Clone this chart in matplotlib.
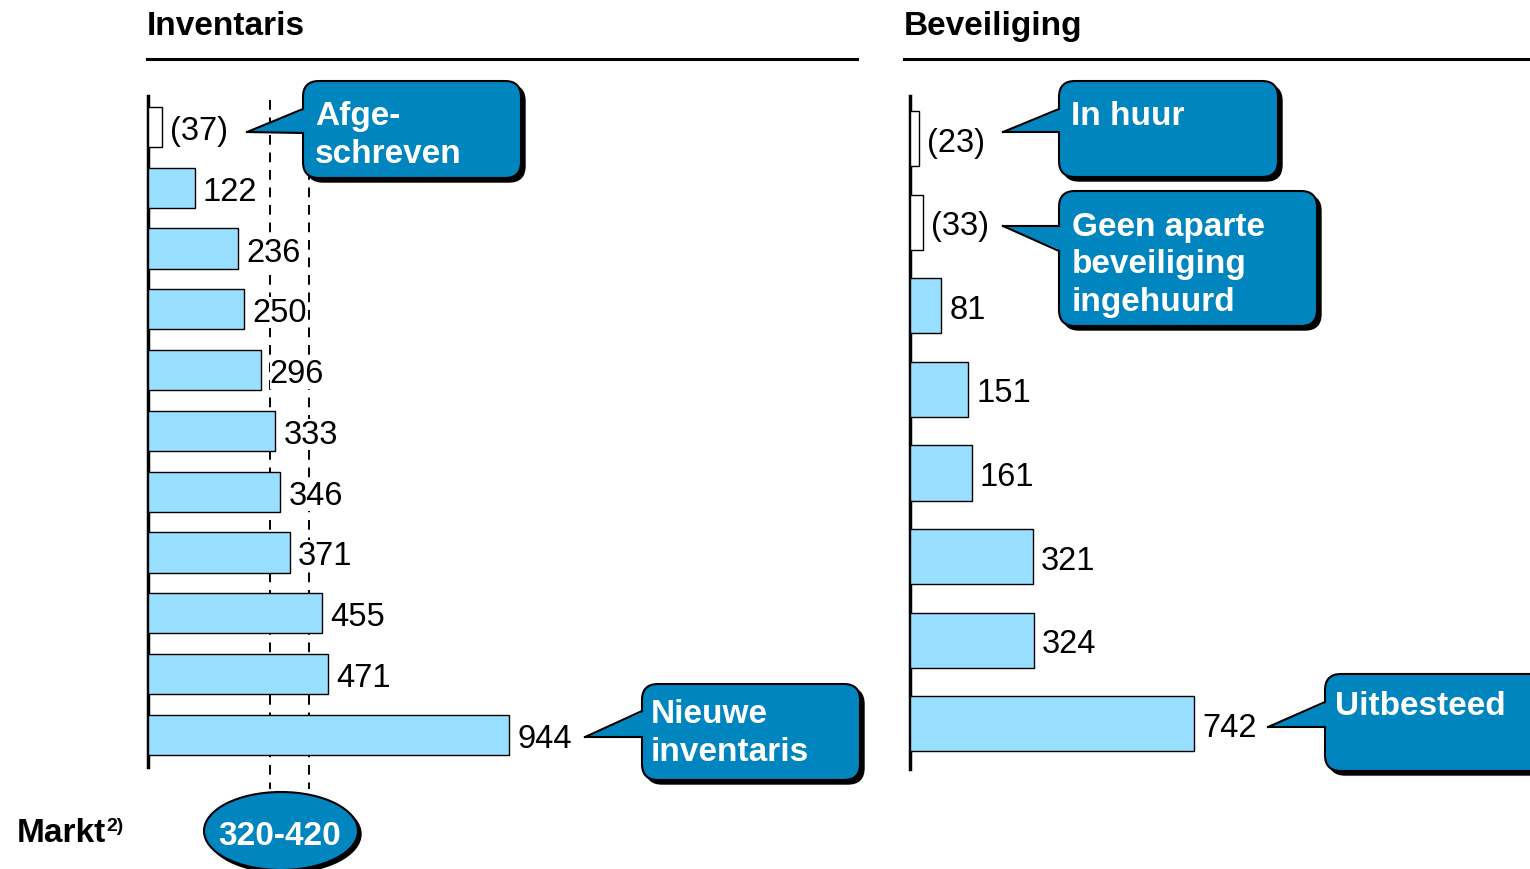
import matplotlib
matplotlib.use("Agg")
import matplotlib.pyplot as plt
from matplotlib.patches import FancyBboxPatch, Polygon, Ellipse

plt.rcParams['font.family'] = ['Liberation Sans', 'DejaVu Sans']

# data
inv_values = [-37, 122, 236, 250, 296, 333, 346, 371, 455, 471, 944]
bev_values = [-23, -33, 81, 151, 161, 321, 324, 742]
markt_range = [320, 420]
titles = ["Inventaris", "Beveiliging"]

BAR = '#99DFFF'
CALL = '#0085BF'
PX_PER_UNIT = 0.3824
W, H = 1530, 870

fig = plt.figure(figsize=(15.3, 8.7), dpi=100)


def fr(x0, y0, x1, y1):
    # pixel box (top-left origin) -> figure fraction rect
    return [x0 / W, (H - y1) / H, (x1 - x0) / W, (y1 - y0) / H]


def bar_axes(rect_px, values, lab_size=23.5):
    ax = fig.add_axes(fr(*rect_px))
    ax.set_xlim(0, (rect_px[2] - rect_px[0]) / PX_PER_UNIT)
    for i, v in enumerate(values):
        col = 'white' if v < 0 else BAR
        ax.barh(i, abs(v), height=0.66, color=col, edgecolor='black', linewidth=1, zorder=3)
        lab = "(%d)" % abs(v) if v < 0 else "%d" % v
        ax.annotate(lab, (abs(v), i), xytext=(6, -2.5), textcoords='offset points',
                    ha='left', va='center', fontsize=lab_size, zorder=5,
                    bbox=dict(fc='white', ec='none', pad=0))
    for s in ['top', 'right', 'bottom']:
        ax.spines[s].set_visible(False)
    ax.spines['left'].set_linewidth(2.5)
    ax.set_xticks([])
    ax.set_yticks([])
    ax.patch.set_alpha(0)
    return ax


axL = bar_axes((148, 97, 857, 768), inv_values)
axL.set_ylim(10.53, -0.51)
for m in markt_range:
    axL.plot([m, m], [-0.45, 10.89], color='black', lw=1.4, ls=(0, (5, 4)),
             zorder=1, clip_on=False)

axR = bar_axes((910, 97, 1530, 770), bev_values)
axR.set_ylim(7.54, -0.51)

# overlay in pixel coordinates
ov = fig.add_axes([0, 0, 1, 1])
ov.set_xlim(0, W)
ov.set_ylim(H, 0)
ov.axis('off')
ov.patch.set_alpha(0)

ov.text(147, 35, titles[0], fontsize=24, fontweight='bold', va='baseline')
ov.text(904, 35, titles[1], fontsize=24, fontweight='bold', va='baseline')
ov.plot([147, 857], [60, 60], color='black', lw=2.2)
ov.plot([904, 1530], [60, 60], color='black', lw=2.2)


def callout(box, tip, a, b, lines, x_text, y_base, spacing=38):
    x0, y0, x1, y1 = box
    sh = FancyBboxPatch((x0 + 4, y0 + 4), x1 - x0, y1 - y0,
                        boxstyle="round,pad=0,rounding_size=16",
                        fc='black', ec='black', lw=1, zorder=1, clip_on=False)
    ov.add_patch(sh)
    bx = FancyBboxPatch((x0, y0), x1 - x0, y1 - y0,
                        boxstyle="round,pad=0,rounding_size=16",
                        fc=CALL, ec='black', lw=1.5, zorder=2, clip_on=False)
    ov.add_patch(bx)
    ov.add_patch(Polygon([tip, (x0 + 3, a), (x0 + 3, b)], closed=True,
                         fc=CALL, ec='none', zorder=3))
    ov.plot([tip[0], x0], [tip[1], a], color='black', lw=1.5, zorder=4)
    ov.plot([tip[0], x0], [tip[1], b], color='black', lw=1.5, zorder=4)
    for k, t in enumerate(lines):
        ov.text(x_text, y_base + k * spacing, t, color='white', fontsize=24,
                fontweight='bold', va='baseline', zorder=5)


callout((303, 82, 521, 179), (247, 133), 110, 134, ["Afge-", "schreven"], 315, 125)
callout((642, 685, 860, 781), (585, 738), 712, 738, ["Nieuwe", "inventaris"], 651, 723)
callout((1059, 82, 1278, 178), (1003, 133), 110, 133, ["In huur"], 1071, 125)
callout((1059, 192, 1317, 327), (1003, 227), 227, 252,
        ["Geen aparte", "beveiliging", "ingehuurd"], 1072, 236, 37.5)
callout((1325, 675, 1570, 772), (1268, 728), 703, 728, ["Uitbesteed"], 1335, 715)

# market range ellipse
ov.add_patch(Ellipse((284, 835), 154, 78, fc='black', ec='black', zorder=1))
ov.add_patch(Ellipse((281, 832), 154, 78, fc=CALL, ec='black', lw=1.5, zorder=2))
ov.text(280, 845, "%d-%d" % tuple(markt_range), color='white', fontsize=24,
        fontweight='bold', ha='center', va='baseline', zorder=5)

ov.text(17, 842, "Markt", fontsize=24, fontweight='bold', va='baseline')
ov.text(106, 831, "2)", fontsize=14, fontweight='bold', va='baseline')

fig.savefig("out.png", dpi=100)
